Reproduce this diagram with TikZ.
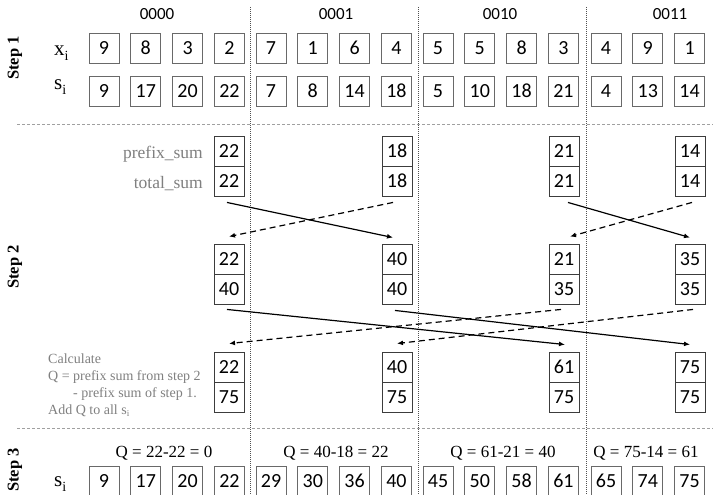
\documentclass[tikz,border=0pt]{standalone}
\usepackage{fontspec}
\setmainfont{Liberation Serif}
\newfontfamily\numfont{Carlito}
\usetikzlibrary{arrows.meta}
\definecolor{boxgray}{RGB}{105,105,105}
\definecolor{boxdark}{RGB}{60,60,60}
\definecolor{sepgray}{RGB}{160,160,160}
\definecolor{vgray}{RGB}{80,80,80}
\definecolor{txtgray}{RGB}{128,128,128}
\newcommand\mysub[2]{#1\raisebox{-5pt}{\fontsize{14}{14}\selectfont #2}}
\begin{document}
\begin{tikzpicture}[x=1pt,y=-1pt,
  cell/.style={draw=boxgray, line width=0.9pt, minimum width=30pt, minimum height=30pt, inner sep=0pt, font=\numfont\fontsize{20}{20}\selectfont},
  cellb/.style={cell, draw=boxdark},
  hdr/.style={font=\numfont\fontsize{17}{17}\selectfont, inner sep=0pt},
  steplbl/.style={font=\bfseries\fontsize{16.5}{16.5}\selectfont, rotate=90, inner sep=0pt},
  rowlbl/.style={font=\fontsize{21}{21}\selectfont, inner sep=0pt, anchor=base west},
  graylbl/.style={font=\fontsize{17.5}{17.5}\selectfont, text=txtgray, inner sep=0pt, anchor=base east},
  note/.style={font=\fontsize{14}{14}\selectfont, text=txtgray, inner sep=0pt, anchor=base west},
  qlbl/.style={font=\fontsize{17}{17}\selectfont, inner sep=0pt, anchor=base},
  sepline/.style={draw=sepgray, line width=0.7pt, dash pattern=on 3pt off 2pt},
  vline/.style={draw=vgray, line width=0.7pt, dash pattern=on 1pt off 1pt},
  arr/.style={line width=1.2pt, -{Latex[length=6pt,width=5pt]}},
  darr/.style={arr, dash pattern=on 6pt off 4pt}
]
\useasboundingbox (0,0) rectangle (713,495);
\clip (0,0) rectangle (713,495);
\fill[white] (0,0) rectangle (713,495);

% separators
\draw[sepline] (17,124.5) -- (713,124.5);
\draw[sepline] (17,428) -- (713,428);
\draw[vline] (250,7) -- (250,495);
\draw[vline] (418,7) -- (418,495);
\draw[vline] (586,7) -- (586,495);

% headers
\node[hdr] (h0) at (157,14) {0000};
\node[hdr] (h1) at (336,14) {0001};
\node[hdr] (h2) at (500,14) {0010};
\node[hdr] (h3) at (670,14) {0011};

% step labels
\node[steplbl] (st1) at (15,58) {Step 1};
\node[steplbl] (st2) at (15,267) {Step 2};
\node[steplbl] (st3) at (15,470) {Step 3};

% row labels
\node[rowlbl] (lx) at (54,56) {\mysub{x}{i}};
\node[rowlbl] (ls) at (54,90) {\mysub{s}{i}};
\node[rowlbl] (ls3) at (54,486) {\mysub{s}{i}};

% step 1 and step 3 boxes
\foreach \gx/\xs/\ss/\ts [count=\g] in {89/{9,8,3,2}/{9,17,20,22}/{9,17,20,22},
    256/{7,1,6,4}/{7,8,14,18}/{29,30,36,40},
    423/{5,5,8,3}/{5,10,18,21}/{45,50,58,61},
    591/{4,9,1}/{4,13,14}/{65,74,75}} {
  \foreach \v [count=\i from 0] in \xs { \node[cell] (x\g-\i) at ({\gx+15+41.8*\i},48) {\v}; }
  \foreach \v [count=\i from 0] in \ss { \node[cell] (s\g-\i) at ({\gx+15+41.8*\i},91) {\v}; }
  \foreach \v [count=\i from 0] in \ts { \node[cell] (r\g-\i) at ({\gx+15+41.8*\i},481) {\v}; }
}

% step 2 boxes
\foreach \cx/\a/\b/\c/\d/\e/\f [count=\k] in {229/22/22/22/40/22/75, 397/18/18/40/40/40/75,
    564/21/21/21/35/61/75, 690/14/14/35/35/75/75} {
  \node[cellb] (A\k) at (\cx,151) {\a};
  \node[cellb] (B\k) at (\cx,181) {\b};
  \node[cellb] (C\k) at (\cx,259) {\c};
  \node[cellb] (D\k) at (\cx,289) {\d};
  \node[cellb] (E\k) at (\cx,367) {\e};
  \node[cellb] (F\k) at (\cx,397) {\f};
}

% gray labels
\node[graylbl] (lp) at (203,158) {prefix\_sum};
\node[graylbl] (lt) at (203,188) {total\_sum};

% note
\node[note] (n1) at (48,363) {Calculate};
\node[note] (n2) at (48,380) {Q = prefix sum from step 2};
\node[note] (n3) at (73,397) {- prefix sum of step 1.};
\node[note] (n4) at (48,414) {Add Q to all s\raisebox{-2pt}{\fontsize{9}{9}\selectfont i}};

% stage 1 arrows
\draw[arr] ([xshift=-2pt,yshift=-6pt]B1.south) -- ([xshift=-4pt,yshift=6pt]C2.north);
\draw[darr] ([xshift=-4pt,yshift=-6pt]B2.south) -- ([yshift=7pt]C1.north);
\draw[arr] ([xshift=4pt,yshift=-6pt]B3.south) -- ([yshift=6pt]C4.north);
\draw[darr] ([xshift=2pt,yshift=-6pt]B4.south) -- ([xshift=6pt,yshift=7pt]C3.north);

% stage 2 arrows
\draw[arr] ([xshift=-2pt,yshift=-5pt]D1.south) -- ([xshift=1pt,yshift=7pt]E3.north);
\draw[arr] ([xshift=-2pt,yshift=-6pt]D2.south) -- ([yshift=7pt]E4.north);
\draw[darr] ([xshift=-3pt,yshift=-5pt]D3.south) -- ([yshift=8pt]E1.north);
\draw[darr] ([xshift=3pt,yshift=-5pt]D4.south) -- ([yshift=8pt]E2.north);

% step 3 Q labels
\node[qlbl] (q0) at (164,457) {Q = 22-22 = 0};
\node[qlbl] (q1) at (336,457) {Q = 40-18 = 22};
\node[qlbl] (q2) at (503,457) {Q = 61-21 = 40};
\node[qlbl] (q3) at (646,457) {Q = 75-14 = 61};
\end{tikzpicture}
\end{document}
